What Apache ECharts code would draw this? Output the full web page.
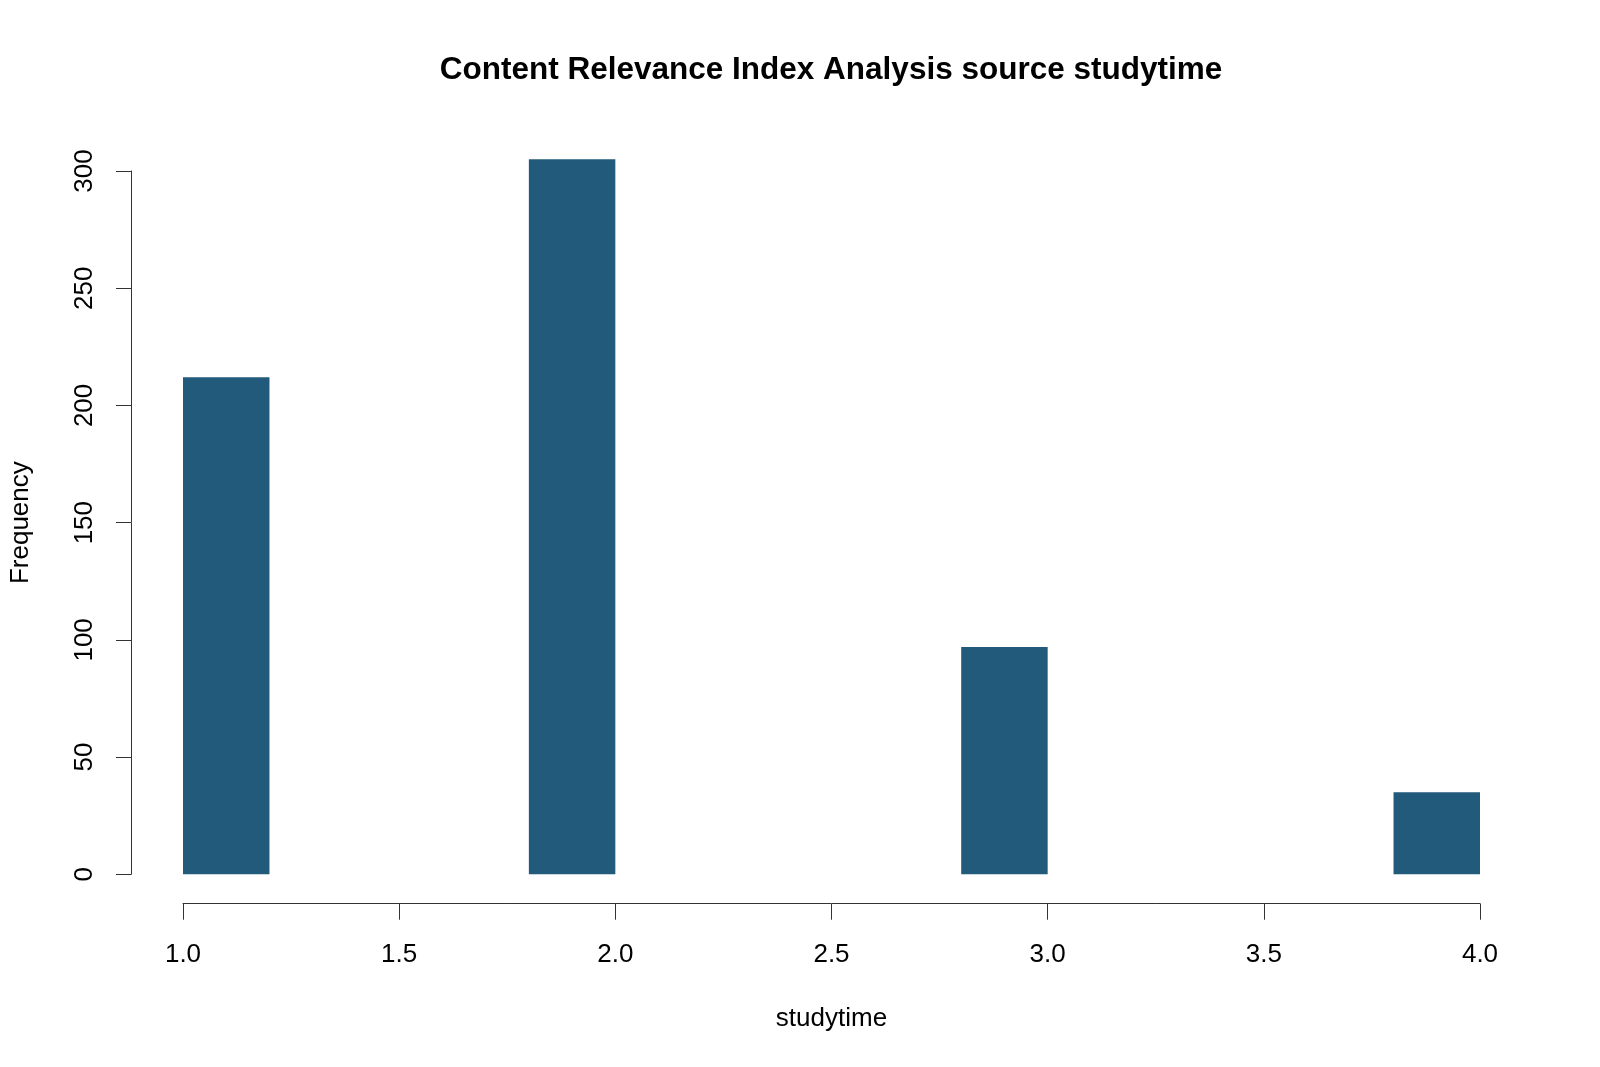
<!DOCTYPE html>
<html>
<head>
<meta charset="utf-8">
<script src="https://cdn.jsdelivr.net/npm/echarts@6/dist/echarts.min.js"></script>
<style>
html,body{margin:0;padding:0;background:#fff;}
#chart{width:1600px;height:1067px;}
</style>
</head>
<body>
<div id="chart"></div>
<script>
const titleText = 'Content Relevance Index Analysis source studytime';
const xName = 'studytime';
const yName = 'Frequency';
const binStarts = [1.0, 1.8, 2.8, 3.8];
const binEnds = [1.2, 2.0, 3.0, 4.0];
const counts = [212, 305, 97, 35];
const xTicks = [1.0, 1.5, 2.0, 2.5, 3.0, 3.5, 4.0];
const yTicks = [0, 50, 100, 150, 200, 250, 300];

const FONT = "'Liberation Sans', Arial, sans-serif";
const barColor = '#215A7A';
const axisColor = '#333';

const data = binStarts.map((s, i) => [s, binEnds[i], counts[i]]);

const chart = echarts.init(document.getElementById('chart'));
chart.setOption({
  backgroundColor: '#fff',
  animation: false,
  title: {
    text: titleText,
    left: 831,
    textAlign: 'center',
    top: 54,
    padding: 0,
    textStyle: {fontFamily: FONT, fontSize: 31.5, fontWeight: 'bold', color: '#000'}
  },
  grid: {left: 182.7, right: 120, top: 171, bottom: 192.7, containLabel: false},
  xAxis: {
    type: 'value',
    min: xTicks[0],
    max: xTicks[xTicks.length - 1],
    interval: 0.5,
    offset: 29.4,
    name: xName,
    nameLocation: 'middle',
    nameGap: 102,
    nameMoveOverlap: false,
    nameTextStyle: {fontFamily: FONT, fontSize: 26, color: '#000'},
    axisLine: {show: true, onZero: false, lineStyle: {color: axisColor, width: 1}},
    axisTick: {show: true, length: 16, lineStyle: {color: axisColor, width: 1}},
    axisLabel: {fontFamily: FONT, fontSize: 26, color: '#000', margin: 38,
      formatter: v => v.toFixed(1)},
    splitLine: {show: false}
  },
  yAxis: {
    type: 'value',
    min: yTicks[0],
    max: yTicks[yTicks.length - 1],
    interval: 50,
    offset: 52,
    name: yName,
    nameLocation: 'middle',
    nameRotate: 90,
    nameGap: 97,
    nameMoveOverlap: false,
    nameTextStyle: {fontFamily: FONT, fontSize: 26, color: '#000'},
    axisLine: {show: true, onZero: false, lineStyle: {color: axisColor, width: 1}},
    axisTick: {show: true, length: 15, lineStyle: {color: axisColor, width: 1}},
    axisLabel: {fontFamily: FONT, fontSize: 26, color: '#000', margin: 33.5, rotate: 90},
    splitLine: {show: false}
  },
  series: [{
    type: 'custom',
    clip: false,
    data: data,
    encode: {x: [0, 1], y: 2},
    renderItem: function (params, api) {
      const p0 = api.coord([api.value(0), api.value(2)]);
      const p1 = api.coord([api.value(1), 0]);
      return {
        type: 'rect',
        shape: {x: p0[0], y: p0[1], width: p1[0] - p0[0], height: p1[1] - p0[1]},
        style: {fill: barColor}
      };
    }
  }]
});
</script>
</body>
</html>
